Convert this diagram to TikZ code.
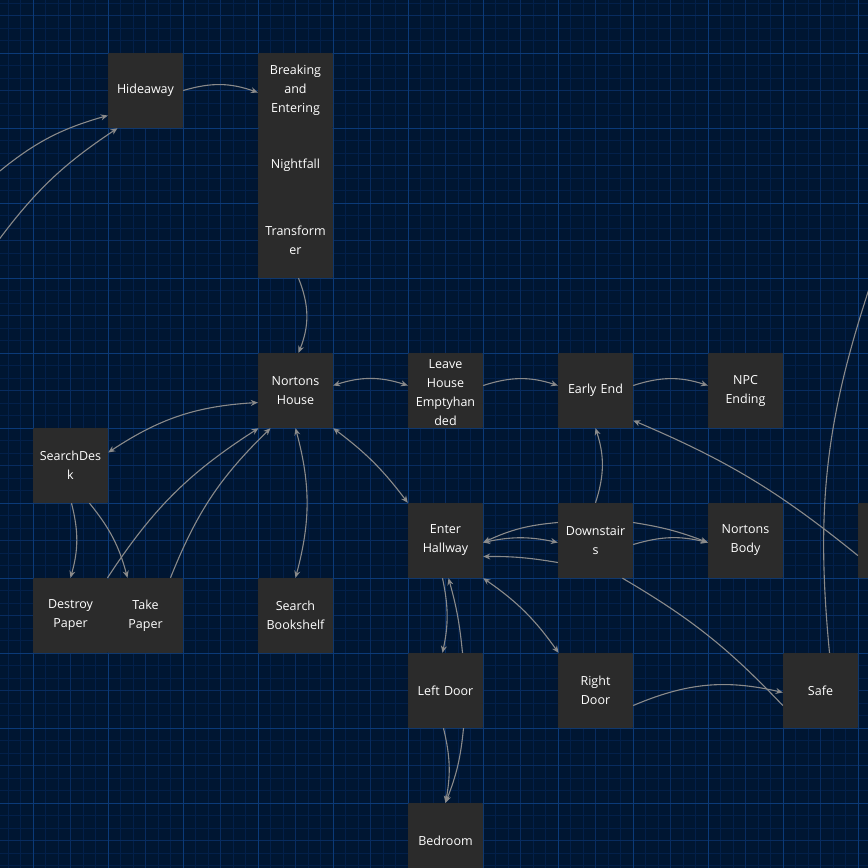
\documentclass[tikz,border=0pt]{standalone}
\usepackage{fontspec}
\setmainfont{Open Sans}
\usetikzlibrary{arrows.meta}
\definecolor{bgblue}{HTML}{001632}
\definecolor{gridmajor}{HTML}{0B3A78}
\definecolor{gridmid}{HTML}{082C60}
\definecolor{gridminor}{HTML}{03204A}
\definecolor{boxgrey}{HTML}{2B2B2B}
\definecolor{linkgrey}{HTML}{8A8A8A}
\tikzset{
  passage/.style={fill=boxgrey, rounded corners=1pt, minimum width=75pt, minimum height=75pt,
    inner sep=0pt, text=white, text width=74pt, align=center, font=\fontsize{12.5}{19}\selectfont},
  link/.style={draw=linkgrey, line width=1.1pt, -{Stealth[length=7pt,width=6pt]}},
  twoway/.style={link, {Stealth[length=7pt,width=6pt]}-{Stealth[length=7pt,width=6pt]}},
  plain/.style={draw=linkgrey, line width=1.1pt}
}
\begin{document}
\begin{tikzpicture}[x=1pt,y=-1pt]
\useasboundingbox (0,0) rectangle (868,868);
\clip (0,0) rectangle (868,868);
\fill[bgblue] (0,0) rectangle (868,868);
% grid
\foreach \g in {0,12.5,...,870} {
  \draw[gridminor, line width=0.5pt] (\g+8,0) -- (\g+8,868);
  \draw[gridminor, line width=0.5pt] (0,\g+3) -- (868,\g+3);
}
\foreach \g in {-4.5,33,...,870} \draw[gridmid, line width=0.8pt] (\g,0) -- (\g,868);
\foreach \g in {15.5,53,...,870} \draw[gridmid, line width=0.8pt] (0,\g) -- (868,\g);
\foreach \g in {33,108,...,868} \draw[gridmajor, line width=1pt] (\g,0) -- (\g,868);
\foreach \g in {53,128,...,868} \draw[gridmajor, line width=1pt] (0,\g) -- (868,\g);

% passages
\node[passage] (hideaway) at (145.5,90.5) {Hideaway};
\node[passage] (breaking) at (295.5,90.5) {Breaking\\and\\Entering};
\node[passage] (nightfall) at (295.5,165.5) {Nightfall};
\node[passage] (transformer) at (295.5,240.5) {Transform\\er};
\node[passage] (nortons) at (295.5,390.5) {Nortons\\House};
\node[passage] (leave) at (445.5,390.5) {};
\begin{scope}
\clip (408,353) rectangle (483,428);
\node[text=white, align=center, font=\fontsize{12.5}{19}\selectfont, anchor=north] (leavetext) at (445.5,356) {Leave\\House\\Emptyhan\\ded};
\end{scope}
\node[passage] (early) at (595.5,390.5) {Early End};
\node[passage] (npc) at (745.5,390.5) {NPC\\Ending};
\node[passage] (desk) at (70.5,465.5) {SearchDes\\k};
\node[passage] (hallway) at (445.5,540.5) {Enter\\Hallway};
\node[passage] (downstairs) at (595.5,540.5) {Downstair\\s};
\node[passage] (body) at (745.5,540.5) {Nortons\\Body};
\node[passage] (offright) at (895.5,540.5) {};
\node[passage] (destroy) at (70.5,615.5) {Destroy\\Paper};
\node[passage] (take) at (145.5,615.5) {Take\\Paper};
\node[passage] (bookshelf) at (295.5,615.5) {Search\\Bookshelf};
\node[passage] (leftdoor) at (445.5,690.5) {Left Door};
\node[passage] (rightdoor) at (595.5,690.5) {Right\\Door};
\node[passage] (safe) at (820.5,690.5) {Safe};
\node[passage] (bedroom) at (445.5,840.5) {Bedroom};

\coordinate (offleftA) at (-5,175);
\coordinate (offleftB) at (-5,245);
\coordinate (offtop) at (872,280);

% links
\draw[link] (offleftA) to[bend left=12] ([yshift=-25pt]hideaway.west);
\draw[link] (offleftB) to[bend left=10] ([xshift=-28pt]hideaway.south);
\draw[link] (hideaway.east) to[bend left=18] ([yshift=-2pt]breaking.west);
\draw[link] ([xshift=3pt]transformer.south) to[bend left=22] ([xshift=3pt]nortons.north);
\draw[twoway] ([yshift=5pt]nortons.east) to[bend left=18] ([yshift=5pt]leave.west);
\draw[link] ([yshift=5pt]leave.east) to[bend left=18] ([yshift=5pt]early.west);
\draw[link] ([yshift=5pt]early.east) to[bend left=18] ([yshift=5pt]npc.west);
\draw[twoway] ([yshift=-12pt]nortons.west) to[bend right=15] ([yshift=13pt]desk.east);
\draw[link] ([xshift=37pt,yshift=0pt]destroy.north) to[bend left=12] ([xshift=-37pt]nortons.south);
\draw[link] ([xshift=25pt]take.north) to[bend left=12] ([xshift=-25pt]nortons.south);
\draw[link] ([xshift=1pt]desk.south) to[bend left=15] (destroy.north);
\draw[link] ([xshift=19pt]desk.south) to[bend left=12] ([xshift=-18pt]take.north);
\draw[twoway] (nortons.south) to[bend left=15] (bookshelf.north);
\draw[twoway] (nortons.south east) to[bend left=8] (hallway.north west);
\draw[link] ([yshift=18pt]downstairs.west) to[bend right=10] ([yshift=-2pt]hallway.east);
\draw[twoway] ([yshift=-2pt]hallway.east) to[bend left=12] ([yshift=-2pt]downstairs.west);
\draw[link] ([yshift=-22pt]downstairs.west) to[bend right=5] ([yshift=-16pt]hallway.east);
\draw[link] ([yshift=18pt]downstairs.east) to[bend left=6] ([yshift=-2pt]body.west);
\draw[link] ([yshift=-4pt]downstairs.east) to[bend left=15] ([yshift=-2pt]body.west);
\draw[link] (downstairs.north) to[bend right=18] (early.south);
\draw[plain] ([xshift=27pt]downstairs.south) to[bend left=8] ([yshift=-15pt]safe.west);
\draw[link] ([yshift=-15pt]offright.west) to[bend right=8] ([yshift=-30pt]early.east);
\draw[link] ([xshift=-3pt]hallway.south) to[bend left=12] ([xshift=-3pt]leftdoor.north);
\draw[link] ([xshift=17pt]leftdoor.north) to[bend right=5] ([xshift=3pt]hallway.south);
\draw[twoway] (hallway.south east) to[bend left=10] ([xshift=-37pt]rightdoor.north);
\draw[link] ([xshift=-2pt]leftdoor.south) to[bend left=12] ([xshift=0pt]bedroom.north);
\draw[link] ([xshift=18pt]leftdoor.south) to[bend left=8] ([xshift=0pt]bedroom.north);
\draw[link] ([yshift=-15pt]rightdoor.east) to[bend left=18] ([yshift=-2pt]safe.west);
\draw[plain] ([xshift=9pt]safe.north) to[bend left=12] (offtop);
\end{tikzpicture}
\end{document}
